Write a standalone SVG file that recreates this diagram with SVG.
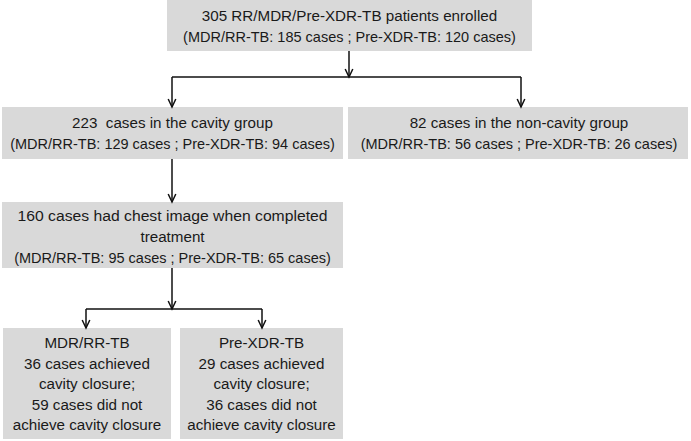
<svg xmlns="http://www.w3.org/2000/svg" width="691" height="441" viewBox="0 0 691 441">
<style>
.box{fill:#d9d9d9;stroke:none}
.t{font-family:"Liberation Sans",Arial,sans-serif;font-size:15.2px;fill:#1a1a1a;text-anchor:middle;white-space:pre}
.p{font-size:14.5px}
.ln{fill:none;stroke:#111;stroke-width:1.5}
.ar{fill:none;stroke:#111;stroke-width:1.5;marker-end:url(#ah)}
</style>
<defs>
<marker id="ah" markerUnits="userSpaceOnUse" markerWidth="10" markerHeight="10" viewBox="0 0 10 10" refX="9.5" refY="5" orient="auto" overflow="visible">
<path d="M1.5,1.2 L9.5,5 L1.5,8.8" fill="none" stroke="#111" stroke-width="1.5"/>
</marker>
</defs>
<g id="n-enrolled">
<rect class="box" x="167" y="0" width="365" height="51"/>
<text class="t" x="349.5" y="21">305 RR/MDR/Pre-XDR-TB patients enrolled</text>
<text class="t p" x="349.5" y="41.5">(MDR/RR-TB: 185 cases ; Pre-XDR-TB: 120 cases)</text>
</g>
<g id="n-cavity">
<rect class="box" x="2" y="107" width="341" height="52"/>
<text class="t" x="172.5" y="127.5">223  cases in the cavity group</text>
<text class="t p" x="172.5" y="148.5">(MDR/RR-TB: 129 cases ; Pre-XDR-TB: 94 cases)</text>
</g>
<g id="n-noncavity">
<rect class="box" x="348" y="107" width="340" height="52"/>
<text class="t" x="519" y="127.5">82 cases in the non-cavity group</text>
<text class="t p" x="519" y="148.5">(MDR/RR-TB: 56 cases ; Pre-XDR-TB: 26 cases)</text>
</g>
<g id="n-chest">
<rect class="box" x="2" y="202" width="341" height="66"/>
<text class="t" x="172.5" y="221" textLength="310" lengthAdjust="spacingAndGlyphs">160 cases had chest image when completed</text>
<text class="t" x="172.5" y="242">treatment</text>
<text class="t p" x="172.5" y="263">(MDR/RR-TB: 95 cases ; Pre-XDR-TB: 65 cases)</text>
</g>
<g id="n-mdr">
<rect class="box" x="3" y="328" width="168" height="111"/>
<text class="t" x="87" y="348">MDR/RR-TB</text>
<text class="t" x="87" y="368.5">36 cases achieved</text>
<text class="t" x="87" y="389">cavity closure;</text>
<text class="t" x="87" y="409.5">59 cases did not</text>
<text class="t" x="87" y="430">achieve cavity closure</text>
</g>
<g id="n-prexdr">
<rect class="box" x="180" y="328" width="163" height="111"/>
<text class="t" x="261.5" y="348">Pre-XDR-TB</text>
<text class="t" x="261.5" y="368.5">29 cases achieved</text>
<text class="t" x="261.5" y="389">cavity closure;</text>
<text class="t" x="261.5" y="409.5">36 cases did not</text>
<text class="t" x="261.5" y="430">achieve cavity closure</text>
</g>
<g id="connectors">
<path class="ar" d="M349,51 V77"/>
<path class="ln" d="M172,77 H521"/>
<path class="ar" d="M172,77 V107"/>
<path class="ar" d="M521,77 V107"/>
<path class="ar" d="M172,159 V202"/>
<path class="ar" d="M172,268 V309"/>
<path class="ln" d="M86,309 H262"/>
<path class="ar" d="M86,309 V328"/>
<path class="ar" d="M262,309 V328"/>
</g>
</svg>
